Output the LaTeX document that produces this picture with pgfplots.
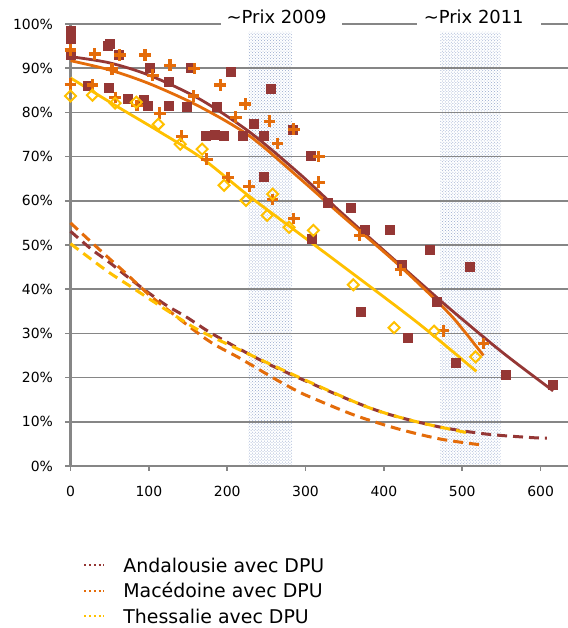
\documentclass[border=0pt]{standalone}
\usepackage{fontspec}
\setmainfont{DejaVu Sans}
\usepackage{pgfplots}
\pgfplotsset{compat=1.18}
\usetikzlibrary{patterns}
\definecolor{andal}{RGB}{149,55,53}
\definecolor{maced}{RGB}{228,108,10}
\definecolor{thess}{RGB}{255,192,0}
\definecolor{gridgray}{RGB}{134,134,134}
\definecolor{shade}{RGB}{150,168,205}
\begin{document}
\begin{tikzpicture}
\begin{axis}[
  set layers,
  at={(0,0)}, anchor=south west,
  scale only axis, width=497.5bp, height=442bp,
  xmin=0, xmax=635, ymin=0, ymax=100,
  xtick={0,100,...,600}, ytick={0,10,...,100},
  axis x line=bottom, axis y line=left,
  axis line style={-, draw=gridgray, line width=2bp},
  ymajorgrids, grid style={draw=gridgray, line width=1.7bp},
  tick align=outside, major tick length=5bp,
  tick style={draw=gridgray, line width=1.5bp},
  yticklabel={\pgfmathprintnumber{\tick}\%},
  /pgf/number format/assume math mode=true,
  ticklabel style={font=\fontsize{14}{16}\selectfont},
  xticklabel style={yshift=-12bp},
  yticklabel style={xshift=-9bp},
  clip=false,
  legend cell align=left,
  legend style={draw=none, fill=none,
    at={(0.0251,-0.208)}, anchor=north west,
    inner xsep=0pt, inner ysep=0pt,
    font=\fontsize{19}{22}\selectfont,
    nodes={inner sep=0pt, text height=14bp, text depth=4bp},
    row sep=7.5bp, column sep=18bp},
  legend image code/.code={\draw[#1, line width=2.2bp, dash pattern=on 2.2bp off 2.6bp] (0bp,2bp) -- (20bp,2bp);},
]
% shaded periods
\addplot[on layer=axis background, draw=none, pattern=crosshatch dots, pattern color=shade, forget plot] coordinates {(227,0) (227,98.2) (283,98.2) (283,0)} \closedcycle;
\addplot[on layer=axis background, draw=none, pattern=crosshatch dots, pattern color=shade, forget plot] coordinates {(472,0) (472,98.2) (549,98.2) (549,0)} \closedcycle;

% dashed curves (avec DPU)
\addplot[andal, line width=3bp, dash pattern=on 10bp off 6bp, smooth, no marks] coordinates {
(0,53.1) (27,49.0) (48,46.3) (72,42.9) (95,39.8) (121,36.5) (148,33.7) (182,29.8) (242,24.0) (293,19.8) (361,14.6) (408,11.6) (472,8.8) (532,7.2) (591,6.4) (608,6.3)};
\addlegendentry{Andalousie avec DPU}
\addplot[maced, line width=3bp, dash pattern=on 10bp off 6bp, smooth, no marks] coordinates {
(0,55.0) (25,50.9) (46,47.5) (70,43.7) (93,39.9) (108,37.6) (174,28.6) (216,24.4) (263,19.5) (289,17.0) (306,15.6) (361,11.6) (416,8.5) (472,6.1) (523,4.8)};
\addlegendentry{Macédoine avec DPU}
\addplot[thess, line width=3bp, dash pattern=on 10bp off 6bp, smooth, no marks] coordinates {
(0,50.3) (27,46.7) (50,43.7) (76,40.7) (99,38.0) (125,35.0) (165,30.6) (229,25.2) (285,20.6) (378,13.4) (442,10.0) (510,7.4)};
\addlegendentry{Thessalie avec DPU}

% Andalousie points
\addplot[only marks, mark=square*, mark size=4.5bp, color=andal, mark options={fill=andal, draw=andal}, forget plot] coordinates {
(0,98.4) (0,96.6) (0,93) (47,95) (50,95.5) (61,93) (22,86) (49,85.7) (73,83) (94,82.8) (99,81.6) (101,90.2)
(125,87) (125,81.6) (148,81.4) (153,90.2) (172,74.8) (184,75) (187,81.4) (196,74.8) (204,89.3) (220,74.8)
(234,77.5) (246,74.8) (246,65.5) (255,85.3) (283,76) (306,70.3) (308,51.5) (328,59.6) (357,58.5) (370,35)
(376,53.5) (408,53.5) (423,45.6) (431,29) (459,49) (468,37.2) (492,23.4) (510,45.1) (555,20.6) (616,18.4)};
% Macedoine points
\addplot[only marks, mark=+, mark size=5.8bp, color=maced, mark options={line width=3.2bp}, forget plot] coordinates {
(0,94.1) (0,86.4) (28,86.2) (31,93.2) (53,89.8) (57,83.4) (63,93) (85,81.6) (95,93) (105,88.4) (114,79.8)
(127,90.7) (142,74.6) (157,83.7) (158,89.9) (174,69.4) (191,86.2) (201,65.3) (211,78.9) (223,81.9) (228,63.3)
(254,78) (258,60.3) (264,73) (285,76.2) (285,56) (317,70) (317,64.2) (369,52.2) (421,44.4) (476,30.6) (527,27.7)};
% Thessalie points
\addplot[only marks, mark=square, mark size=3.9bp, color=thess, mark options={rotate=45, line width=2bp}, forget plot] coordinates {
(0,83.7) (28,83.9) (57,82.1) (84,82.3) (112,77.3) (140,72.8) (168,71.7) (196,63.5) (224,60.1) (251,56.7)
(258,61.5) (279,54) (310,53.3) (361,41) (413,31.3) (464,30.5) (517,24.7)};

% trend lines
\addplot[andal, line width=2.8bp, smooth, no marks, forget plot] coordinates {
(0,92.6) (50,91.2) (102,88.3) (165,83.0) (229,75.5) (293,66.0) (344,57.6) (408,47.5) (446,41.5) (488,35.0) (552,25.6) (616,17.0)};
\addplot[maced, line width=2.8bp, smooth, no marks, forget plot] coordinates {
(0,91.7) (50,89.6) (102,86.4) (165,81.3) (229,74.6) (293,65.0) (344,57.0) (408,47.2) (446,41.0) (488,33.6) (527,25.0)};
\addplot[thess, line width=2.8bp, smooth, no marks, forget plot] coordinates {
(0,87.8) (57,81.6) (112,75.8) (168,69.6) (224,61.6) (279,54.3) (365,42.9) (446,32.0) (518,21.4)};

% labels of periods
\fill[white] (axis cs:192,98.6) rectangle (axis cs:347,101.5);
\node[anchor=base, font=\fontsize{18}{20}\selectfont, inner sep=0pt] at (axis cs:263,100.15) {\textasciitilde Prix 2009};
\fill[white] (axis cs:442.5,98.6) rectangle (axis cs:601,101.5);
\node[anchor=base, font=\fontsize{18}{20}\selectfont, inner sep=0pt] at (axis cs:514.7,100.15) {\textasciitilde Prix 2011};
\end{axis}
\pgfresetboundingbox
\useasboundingbox (-70.5bp,-162bp) rectangle (497.5bp,466bp);
\end{tikzpicture}
\end{document}
